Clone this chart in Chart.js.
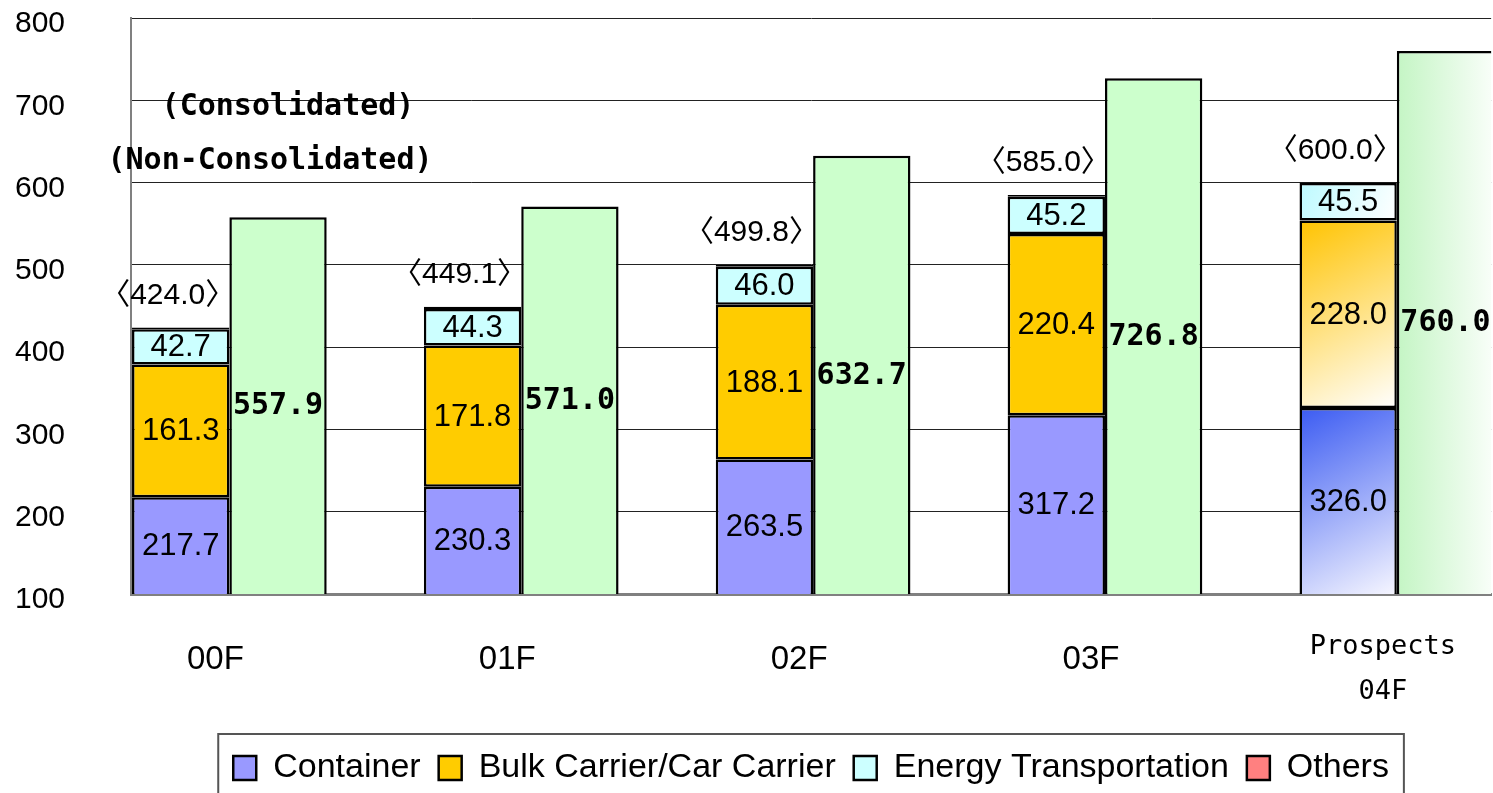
<!DOCTYPE html>
<html>
<head>
<meta charset="utf-8">
<script src="https://cdn.jsdelivr.net/npm/chart.js@4.4.0/dist/chart.umd.min.js"></script>
<style>
  html, body { margin: 0; padding: 0; background: #fff; overflow: hidden; }
  #wrap { width: 1493px; height: 793px; }
</style>
</head>
<body>
<div id="wrap"><canvas id="salesChart"></canvas></div>
<script>
// Data (billion yen)
const categories = ['00F', '01F', '02F', '03F', ['Prospects', '04F']];
const container = [217.7, 230.3, 263.5, 317.2, 326.0];
const bulkCarCarrier = [161.3, 171.8, 188.1, 220.4, 228.0];
const energyTransport = [42.7, 44.3, 46.0, 45.2, 45.5];
const others = [2.3, 2.7, 2.2, 2.2, 0.5];
const nonConsolidatedTotal = [424.0, 449.1, 499.8, 585.0, 600.0];
const consolidated = [557.9, 571.0, 632.7, 726.8, 760.0];
const yTicks = [100, 200, 300, 400, 500, 600, 700, 800];
const prospectIndex = 4;

const monoBold = 'bold 30px "DejaVu Sans Mono", monospace';
const sans = '"Liberation Sans", "Noto Sans CJK JP", Arial, sans-serif';

const points = arr => arr.map((v, i) => ({ x: i, y: v }));

// faded fill used for the prospect year bars
function fadeFill(base, from, to, below, horizontal) {
  return (c) => {
    if (c.type !== 'data' || c.dataIndex !== prospectIndex) return base;
    const chart = c.chart;
    const xs = chart.scales.x, ys = chart.scales.y;
    if (!chart.chartArea || !xs || !ys) return base;
    const i = c.dataIndex;
    const cx = xs.getPixelForValue(i);
    const w = (xs.getPixelForValue(1) - xs.getPixelForValue(0)) / 3;
    const start = below.reduce((s, arr) => s + arr[i], 0);
    const yTop = ys.getPixelForValue(start + c.raw.y);
    const yBot = ys.getPixelForValue(Math.max(start, ys.min));
    const g = horizontal
      ? chart.ctx.createLinearGradient(cx, 0, cx + w * 1.1, 0)
      : chart.ctx.createLinearGradient(cx - w, yTop, cx, yBot);
    g.addColorStop(0, from);
    g.addColorStop(1, to);
    return g;
  };
}

const valueLabels = {
  id: 'valueLabels',
  afterDatasetsDraw(chart) {
    const { ctx, chartArea, scales: { y } } = chart;
    ctx.save();
    ctx.fillStyle = '#000';
    ctx.textAlign = 'center';
    ctx.textBaseline = 'middle';
    chart.data.datasets.forEach((ds, di) => {
      if (!ds.labelFont) return;
      const meta = chart.getDatasetMeta(di);
      meta.data.forEach((bar, i) => {
        const top = Math.max(bar.y, chartArea.top);
        const bottom = Math.min(bar.base, chartArea.bottom);
        ctx.font = ds.labelFont;
        ctx.fillText(ds.data[i].y.toFixed(1), bar.x, (top + bottom) / 2 + 1);
      });
    });
    // non-consolidated totals above the stacks
    const topMeta = chart.getDatasetMeta(3);
    ctx.font = '30px ' + sans;
    topMeta.data.forEach((bar, i) => {
      const yPix = y.getPixelForValue(nonConsolidatedTotal[i]);
      ctx.fillText('\u3008' + nonConsolidatedTotal[i].toFixed(1) + '\u3009', bar.x - 13, yPix - 32);
    });
    // captions
    ctx.font = monoBold;
    ctx.fillText('(Consolidated)', 288, 107);
    ctx.fillText('(Non-Consolidated)', 270, 161);
    ctx.restore();
  }
};

const legendFrame = {
  id: 'legendFrame',
  afterDraw(chart) {
    const lg = chart.legend;
    if (!lg || !lg.lineWidths) return;
    const pad = lg.options.labels.padding;
    const lw = lg.lineWidths[0];
    const x0 = (lg.left + pad + lg.right - lw) / 2;
    const ctx = chart.ctx;
    ctx.save();
    ctx.strokeStyle = '#555';
    ctx.lineWidth = 2;
    ctx.strokeRect(x0 - 15, lg.top + 1, lw - pad + 30, chart.height + 10);
    ctx.restore();
  }
};

const ctx = document.getElementById('salesChart').getContext('2d');

new Chart(ctx, {
  type: 'bar',
  data: {
    datasets: [
      {
        label: 'Container',
        data: points(container),
        stack: 'non',
        backgroundColor: fadeFill('#9999FF', '#3B5BF2', '#F6F6FF', [], false),
        labelFont: '31px ' + sans
      },
      {
        label: 'Bulk Carrier/Car Carrier',
        data: points(bulkCarCarrier),
        stack: 'non',
        backgroundColor: fadeFill('#FFCC00', '#FFC300', '#FFFFFF', [container], false),
        labelFont: '31px ' + sans
      },
      {
        label: 'Energy Transportation',
        data: points(energyTransport),
        stack: 'non',
        backgroundColor: fadeFill('#CCFFFF', '#BDFAFF', '#FFFFFF', [container, bulkCarCarrier], false),
        labelFont: '31px ' + sans
      },
      {
        label: 'Others',
        data: points(others),
        stack: 'non',
        backgroundColor: '#FF8080'
      },
      {
        label: 'Consolidated',
        data: points(consolidated),
        stack: 'con',
        backgroundColor: fadeFill('#CCFFCC', '#C4F5C4', '#FFFFFF', [], true),
        // the last bar runs off the right edge of the picture
        borderWidth: c => c.dataIndex === prospectIndex
          ? { top: 2.5, left: 2.5, bottom: 2.5, right: 0 }
          : 2.5,
        labelFont: monoBold
      }
    ]
  },
  options: {
    responsive: true,
    maintainAspectRatio: false,
    animation: false,
    layout: { padding: { left: 15, right: 0, top: 18, bottom: -2 } },
    datasets: {
      bar: {
        borderColor: '#000',
        borderWidth: 2.5,
        borderSkipped: false,
        categoryPercentage: 0.667,
        barPercentage: 1
      }
    },
    plugins: {
      legend: {
        position: 'bottom',
        fullSize: false,
        labels: {
          filter: item => item.text !== 'Consolidated',
          boxWidth: 23,
          boxHeight: 24,
          padding: 18,
          color: '#000',
          font: { family: sans, size: 34 }
        }
      },
      tooltip: { enabled: false }
    },
    scales: {
      x: {
        type: 'linear',
        stacked: true,
        offset: false,
        min: -0.337,
        max: 4.323,
        afterBuildTicks: scale => { scale.ticks = categories.map((c, i) => ({ value: i })); },
        afterFit: scale => { scale.height = 139; },
        grid: { display: false },
        border: { color: '#808080', width: 3 },
        ticks: {
          autoSkip: false,
          maxRotation: 0,
          padding: 23,
          labelOffset: -14,
          color: '#000',
          callback: v => categories[v],
          font: c => c.index === prospectIndex
            ? { family: '"DejaVu Sans Mono", monospace', size: 27, lineHeight: 1.65 }
            : { family: sans, size: 33, lineHeight: 2.1 }
        }
      },
      y: {
        stacked: true,
        min: 100,
        max: 800,
        afterBuildTicks: scale => { scale.ticks = yTicks.map(v => ({ value: v })); },
        afterFit: scale => { scale.width = 116; },
        grid: { color: '#222', lineWidth: 1, drawTicks: false },
        border: { color: '#808080', width: 2 },
        ticks: {
          crossAlign: 'far',
          padding: 0,
          labelOffset: 6,
          color: '#000',
          font: { family: sans, size: 30 }
        }
      }
    }
  },
  plugins: [valueLabels, legendFrame]
});
</script>
</body>
</html>
